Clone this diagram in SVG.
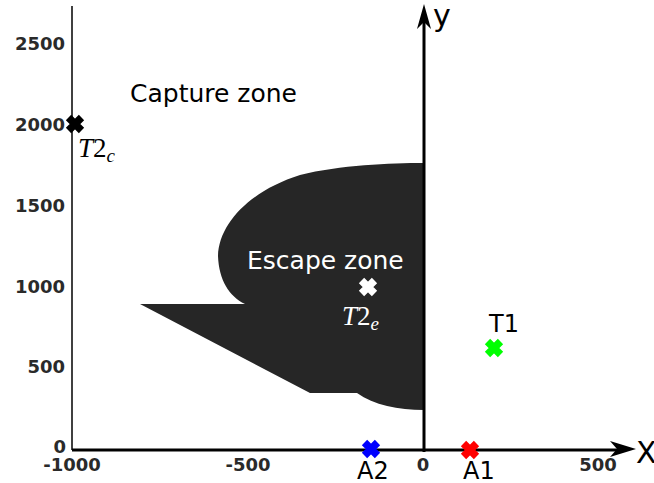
<svg xmlns="http://www.w3.org/2000/svg" width="654" height="483" viewBox="0 0 654 483">
  <defs>
    <style>
      .tick { font-family: "DejaVu Sans", "Liberation Sans", sans-serif; font-weight: bold; font-size: 18px; fill: #2a2a2a; }
      .lbl { font-family: "DejaVu Sans", "Liberation Sans", sans-serif; font-size: 24px; fill: #000; }
      .big { font-family: "DejaVu Sans", "Liberation Sans", sans-serif; font-size: 30px; fill: #000; }
      .zone { font-family: "DejaVu Sans", "Liberation Sans", sans-serif; font-size: 25px; }
      .math { font-family: "Liberation Serif", "DejaVu Serif", serif; font-size: 27px; }
      .sub { font-size: 19px; font-style: italic; }
      .axis { stroke: #000; fill: none; }
    </style>
    <path id="cross" d="M-6.5,-6.5 L6.5,6.5 M-6.5,6.5 L6.5,-6.5" stroke-width="7.5" fill="none"/>
  </defs>
  <rect width="654" height="483" fill="#fff"/>

  <g id="escape-zone">
    <path d="M140,304 L245,304 C229,296 219,280 218,256 C219,222 252,190 300,175 C340,165 390,163 424,163 L424,410 C398,410 374,405 357,393 L310,393 Z" fill="#262626"/>
    <text class="zone" x="247" y="269" fill="#fff">Escape zone</text>
  </g>

  <g id="capture-zone">
    <text class="zone" x="130" y="102" fill="#000">Capture zone</text>
  </g>

  <g id="connectors">
    <line class="axis" x1="72" y1="6" x2="72" y2="450" stroke-width="1.5"/>
    <line class="axis" x1="72" y1="450" x2="618" y2="450" stroke-width="3"/>
    <polygon points="636,449 610,441 617,449 610,457" fill="#000"/>
    <line class="axis" x1="424" y1="452" x2="424" y2="22" stroke-width="3"/>
    <polygon points="424,4 417,29 424,22 431,29" fill="#000"/>
  </g>

  <g id="axis-labels">
    <text class="big" x="433" y="26" style="font-size:30px">y</text>
    <text class="big" x="636" y="463">X</text>
    <text class="tick" x="65" y="50" text-anchor="end">2500</text>
    <text class="tick" x="65" y="131" text-anchor="end">2000</text>
    <text class="tick" x="65" y="212" text-anchor="end">1500</text>
    <text class="tick" x="65" y="293" text-anchor="end">1000</text>
    <text class="tick" x="65" y="373" text-anchor="end">500</text>
    <text class="tick" x="66" y="453" text-anchor="end">0</text>
    <text class="tick" x="72" y="471" text-anchor="middle">-1000</text>
    <text class="tick" x="248" y="471" text-anchor="middle">-500</text>
    <text class="tick" x="423" y="471" text-anchor="middle">0</text>
    <text class="tick" x="598" y="471" text-anchor="middle">500</text>
  </g>

  <g id="T2c">
    <use href="#cross" x="75" y="124" stroke="#000"/>
    <text class="math" x="78" y="157"><tspan font-style="italic">T</tspan>2<tspan class="sub" dy="5">c</tspan></text>
  </g>

  <g id="T2e">
    <use href="#cross" x="368" y="287" stroke="#fff"/>
    <text class="math" x="342" y="325" fill="#fff"><tspan font-style="italic">T</tspan>2<tspan class="sub" dy="5">e</tspan></text>
  </g>

  <g id="T1">
    <use href="#cross" x="494" y="348" stroke="#00ff00"/>
    <text class="lbl" x="489" y="332">T1</text>
  </g>

  <g id="A2">
    <use href="#cross" x="371" y="449" stroke="#0000ff"/>
    <text class="lbl" x="357" y="479">A2</text>
  </g>

  <g id="A1">
    <use href="#cross" x="470" y="450" stroke="#ff0000"/>
    <text class="lbl" x="463" y="479">A1</text>
  </g>
</svg>
